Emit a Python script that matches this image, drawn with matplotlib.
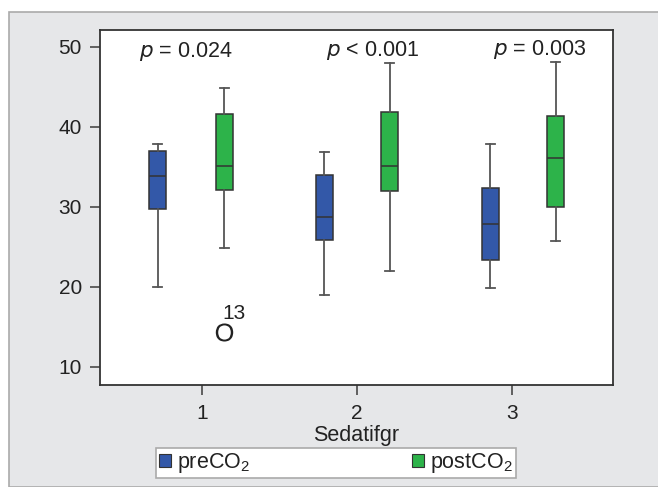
import matplotlib
matplotlib.use('Agg')
import matplotlib.pyplot as plt
from matplotlib.patches import Rectangle, Patch

plt.rcParams['font.family'] = ['Liberation Sans', 'DejaVu Sans']
plt.rcParams['mathtext.default'] = 'regular'

# Data (box stats per sedation group)
groups = [1, 2, 3]
pre_whislo = [20.0, 19.0, 19.9]
pre_q1 = [29.8, 25.9, 23.4]
pre_med = [33.8, 28.7, 27.9]
pre_q3 = [37.0, 34.0, 32.4]
pre_whishi = [37.9, 36.8, 37.9]

post_whislo = [24.9, 22.0, 25.8]
post_q1 = [32.1, 32.0, 30.0]
post_med = [35.1, 35.1, 36.1]
post_q3 = [41.6, 41.9, 41.4]
post_whishi = [44.9, 48.0, 48.1]

post_fliers = [[14.4], [], []]
flier_labels = ['13', '', '']

p_labels = ['$\\it{p}$ = 0.024', '$\\it{p}$ < 0.001', '$\\it{p}$ = 0.003']

# layout (as drawn in the original, boxes not symmetric around ticks)
pre_pos = [0.714, 1.789, 2.859]
post_pos = [1.143, 2.210, 3.280]
p_x = [0.892, 2.099, 3.176]
p_y = [49.4, 49.5, 49.7]

blue = '#3358A8'
green = '#2DB34A'
edge = '#333333'
wcol = '#555555'
txt = '#222222'

fig = plt.figure(figsize=(6.58, 4.87), dpi=100)
fig.patches.append(Rectangle((9 / 658, 0), 1, 1 - 12 / 487, transform=fig.transFigure,
                             facecolor='#E6E7E9', edgecolor='#AAAAAA', lw=1.2, zorder=-5))

ax = fig.add_axes([100 / 658, 1 - 385 / 487, 513 / 658, 355 / 487])
ax.set_facecolor('white')


def stats(lo, q1, med, q3, hi, fl):
    return [dict(whislo=lo[i], q1=q1[i], med=med[i], q3=q3[i], whishi=hi[i], fliers=fl[i])
            for i in range(len(lo))]


common = dict(widths=0.11, patch_artist=True, showfliers=True,
              boxprops=dict(edgecolor=edge, linewidth=1.1),
              medianprops=dict(color=edge, linewidth=1.1),
              whiskerprops=dict(color=wcol, linewidth=1.3),
              capprops=dict(color=wcol, linewidth=1.3),
              flierprops=dict(marker='$O$', markerfacecolor=txt, markeredgecolor=txt,
                              markersize=13, markeredgewidth=0),
              manage_ticks=False)

b1 = ax.bxp(stats(pre_whislo, pre_q1, pre_med, pre_q3, pre_whishi, [[], [], []]),
            positions=pre_pos, **common)
b2 = ax.bxp(stats(post_whislo, post_q1, post_med, post_q3, post_whishi, post_fliers),
            positions=post_pos, **common)
for b in b1['boxes']:
    b.set_facecolor(blue)
for b in b2['boxes']:
    b.set_facecolor(green)
for c in b1['caps'] + b2['caps']:
    x0, x1 = c.get_xdata()
    m = (x0 + x1) / 2
    c.set_xdata([m - 0.03, m + 0.03])

for i, lab in enumerate(flier_labels):
    for v in post_fliers[i]:
        ax.text(post_pos[i] - 0.01, v + 1.1, lab, fontsize=15, color=txt,
                ha='left', va='bottom')

for x, y, t in zip(p_x, p_y, p_labels):
    ax.text(x, y, t, fontsize=15.5, color=txt, ha='center', va='center')

ax.set_xlim(0.342, 3.65)
ax.set_ylim(7.75, 52.1)
ax.set_xticks(groups)
ax.set_xticklabels([str(g) for g in groups])
ax.set_yticks([10, 20, 30, 40, 50])
ax.tick_params(axis='both', colors='#555555', labelcolor=txt, labelsize=15,
               length=7, width=1.3)
ax.tick_params(axis='x', pad=7)
ax.tick_params(axis='y', pad=6)
for s in ax.spines.values():
    s.set_color('#333333')
    s.set_linewidth(1.3)

ax.set_xlabel('Sedatifgr', fontsize=15.5, color=txt, labelpad=1)

handles = [Patch(facecolor=blue, edgecolor=edge, lw=0.8, label='preCO$_2$'),
           Patch(facecolor=green, edgecolor=edge, lw=0.8, label='postCO$_2$')]
leg = fig.legend(handles=handles, ncol=2, loc='center', bbox_to_anchor=(336 / 658, 1 - 463 / 487),
                 fontsize=15.5, frameon=True, fancybox=False, edgecolor='#AAAAAA',
                 facecolor='white', framealpha=1,
                 handlelength=0.55, handleheight=0.55, handletextpad=0.3,
                 columnspacing=7.5, borderpad=0.15, borderaxespad=0)
leg.get_frame().set_linewidth(1.2)
for t in leg.get_texts():
    t.set_color(txt)

fig.savefig('out.png', dpi=100)
